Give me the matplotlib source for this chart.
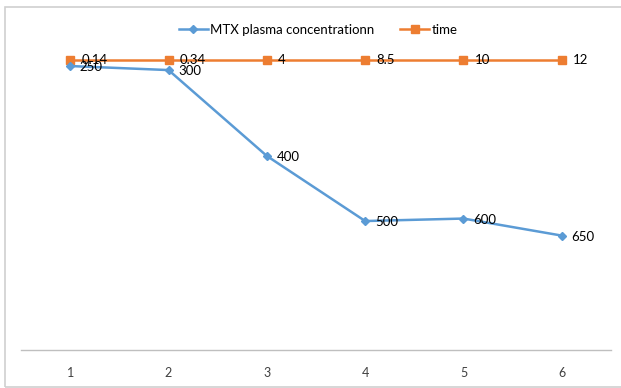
import matplotlib.pyplot as plt
from matplotlib.patches import Rectangle

# dados da planilha (eixo y oculto, escala 0-100)
categorias = [1, 2, 3, 4, 5, 6]
mtx_valores = [91.6, 90.3, 62.6, 41.6, 42.4, 36.9]
mtx_rotulos = ["250", "300", "400", "500", "600", "650"]
tempo_valores = [93.5, 93.5, 93.5, 93.5, 93.5, 93.5]
tempo_rotulos = ["0.14", "0.34", "4", "8.5", "10", "12"]

azul = "#5B9BD5"
laranja = "#ED7D31"

plt.rcParams["font.family"] = ["Lato", "DejaVu Sans"]

fig = plt.figure(figsize=(6.21, 3.88), dpi=100)
# moldura do gráfico (borda direita fica fora da imagem)
fig.patches.append(Rectangle((5 / 621, 1 / 388), 630 / 621, 380 / 388,
                             transform=fig.transFigure, fill=False,
                             edgecolor="#d0d0d0", linewidth=1.2))

ax = fig.add_axes([21 / 621, 38 / 388, 590 / 621, 310 / 388])

ax.plot(categorias, mtx_valores, color=azul, linewidth=1.8, marker="D",
        markersize=4, label="MTX plasma concentrationn", zorder=3)
ax.plot(categorias, tempo_valores, color=laranja, linewidth=1.8, marker="s",
        markersize=6, label="time", zorder=2)

for x, y, r in zip(categorias, tempo_valores, tempo_rotulos):
    ax.annotate(r, (x, y), xytext=(8, 0), textcoords="offset points",
                va="center", ha="left", fontsize=9.5, color="#000000", zorder=4)
for x, y, r in zip(categorias, mtx_valores, mtx_rotulos):
    ax.annotate(r, (x, y), xytext=(7, -1), textcoords="offset points",
                va="center", ha="left", fontsize=9.5, color="#000000", zorder=4)

ax.set_xlim(0.5, 6.5)
ax.set_ylim(0, 100)
ax.set_xticks(categorias)
ax.set_xticklabels([str(c) for c in categorias], fontsize=9, color="#404040")
ax.tick_params(axis="x", length=0, pad=12)
ax.set_yticks([])
for lado in ["top", "left", "right"]:
    ax.spines[lado].set_visible(False)
ax.spines["bottom"].set_color("#bfbfbf")
ax.spines["bottom"].set_linewidth(1)

fig.legend(loc="center", bbox_to_anchor=(318 / 621, 1 - 30 / 388), ncol=2,
           frameon=False, fontsize=9.5, handlelength=2.2, columnspacing=2.0,
           handletextpad=0.15)

fig.savefig("out.png", dpi=100)
